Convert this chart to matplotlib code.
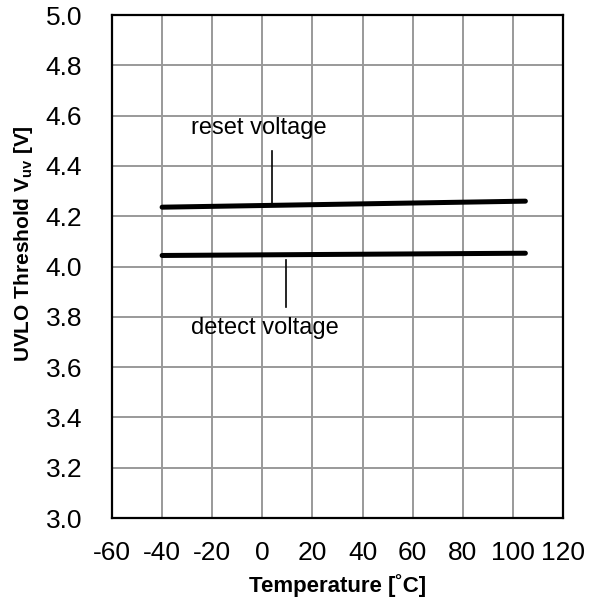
import matplotlib
matplotlib.use("Agg")
import matplotlib.pyplot as plt

plt.rcParams['font.family'] = ['Liberation Sans', 'DejaVu Sans']
plt.rcParams['mathtext.fontset'] = 'custom'
plt.rcParams['mathtext.rm'] = 'Liberation Sans'
plt.rcParams['mathtext.bf'] = 'Liberation Sans:bold'

temp = [-40, 105]
reset_v = [4.236, 4.260]
detect_v = [4.044, 4.053]

x_ticks = [-60, -40, -20, 0, 20, 40, 60, 80, 100, 120]
y_ticks = [3.0, 3.2, 3.4, 3.6, 3.8, 4.0, 4.2, 4.4, 4.6, 4.8, 5.0]

fig = plt.figure(figsize=(5.97, 6.01), dpi=100)
ax = fig.add_axes([0.1876, 0.138, 0.7554, 0.837])

ax.plot(temp, reset_v, color='black', lw=3.6, solid_capstyle='round', zorder=3)
ax.plot(temp, detect_v, color='black', lw=3.6, solid_capstyle='round', zorder=3)

# annotation leader lines
ax.plot([4, 4], [4.25, 4.46], color='black', lw=1.2, zorder=3)
ax.plot([9.3, 9.3], [3.84, 4.026], color='black', lw=1.2, zorder=3)
ax.text(-28.5, 4.55, 'reset voltage', fontsize=17, va='center', ha='left')
ax.text(-28.5, 3.755, 'detect voltage', fontsize=17, va='center', ha='left')

ax.set_xlim(-60, 120)
ax.set_ylim(3.0, 5.0)
ax.set_xticks(x_ticks)
ax.set_yticks(y_ticks)
ax.set_xticklabels([str(v) for v in x_ticks])
ax.set_yticklabels([f'{v:.1f}' for v in y_ticks])
ax.tick_params(axis='both', length=0, labelsize=19)
ax.tick_params(axis='x', pad=16.5)
ax.tick_params(axis='y', pad=21.5)
ax.grid(True, color='#999999', lw=1.4)
ax.set_axisbelow(True)
for s in ax.spines.values():
    s.set_linewidth(1.6)
    s.set_color('black')

ax.set_xlabel('Temperature [˚C]', fontsize=16, fontweight='bold')
ax.xaxis.label.set_va('center')
ax.xaxis.set_label_coords(0.5, -0.135)
ax.set_ylabel(r'UVLO Threshold V$_{\mathbf{uv}}$ [V]', fontsize=15, fontweight='bold')
ax.yaxis.label.set_va('center')
ax.yaxis.set_label_coords(-0.196, 0.545)

fig.savefig('out.png', dpi=100)
